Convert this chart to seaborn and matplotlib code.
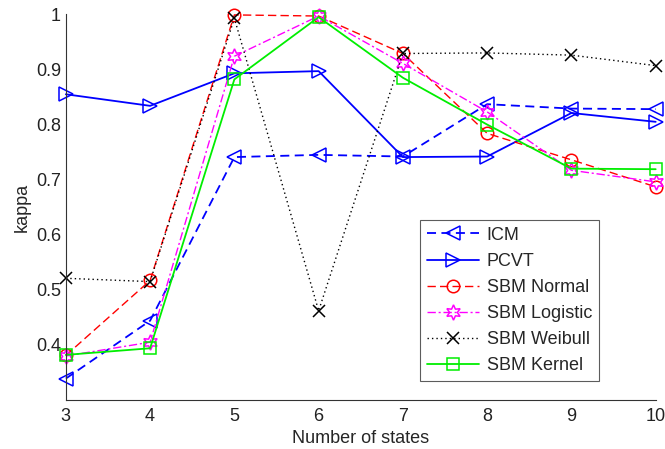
import matplotlib
matplotlib.use("Agg")
import matplotlib.pyplot as plt
import seaborn as sns

states = [3, 4, 5, 6, 7, 8, 9, 10]
icm = [0.339, 0.444, 0.741, 0.745, 0.742, 0.837, 0.829, 0.828]
pcvt = [0.855, 0.834, 0.893, 0.897, 0.741, 0.742, 0.821, 0.805]
sbm_normal = [0.381, 0.517, 0.999, 0.997, 0.929, 0.784, 0.736, 0.687]
sbm_logistic = [0.380, 0.405, 0.924, 0.997, 0.911, 0.823, 0.717, 0.696]
sbm_weibull = [0.521, 0.515, 0.993, 0.462, 0.929, 0.930, 0.926, 0.907]
sbm_kernel = [0.382, 0.394, 0.882, 0.995, 0.885, 0.800, 0.720, 0.719]
labels = ["ICM", "PCVT", "SBM Normal", "SBM Logistic", "SBM Weibull", "SBM Kernel"]

sns.set_style("white")
plt.rcParams['font.family'] = ['Liberation Sans', 'DejaVu Sans']

fig = plt.figure(figsize=(6.65, 4.49), dpi=100)
ax = fig.add_axes([0.099, 0.109, 0.887, 0.859])

styles = [
    (icm, dict(color="#0000ff", linestyle=(0, (5, 3)), marker="<", markersize=10, lw=1.3)),
    (pcvt, dict(color="#0000ff", linestyle="-", marker=">", markersize=10, lw=1.3)),
    (sbm_normal, dict(color="#ff0000", linestyle=(0, (6, 3)), marker="o", markersize=9, lw=1.0)),
    (sbm_logistic, dict(color="#ff00ff", linestyle=(0, (6, 2, 1.5, 2)), marker=(6, 1, 0), markersize=11, lw=1.0)),
    (sbm_weibull, dict(color="#000000", linestyle=(0, (1, 2.2)), marker="x", markersize=8, lw=1.0)),
    (sbm_kernel, dict(color="#00ee00", linestyle="-", marker="s", markersize=9, lw=1.3)),
]

for (vals, st), lab in zip(styles, labels):
    sns.lineplot(x=states, y=vals, ax=ax, label=lab, markerfacecolor="none",
                 markeredgecolor=st["color"], markeredgewidth=1.1, clip_on=False, **st)

ax.set_xlim(3, 10)
ax.set_ylim(0.3, 1.0)
ax.set_xticks(states)
ax.set_yticks([0.4, 0.5, 0.6, 0.7, 0.8, 0.9, 1.0])
ax.set_yticklabels(["0.4", "0.5", "0.6", "0.7", "0.8", "0.9", "1"])
ax.tick_params(direction="in", length=5, labelsize=13, colors="#222222", width=0.8)
ax.tick_params(axis="x", pad=6)
for s in ["top", "right"]:
    ax.spines[s].set_visible(False)
for s in ["left", "bottom"]:
    ax.spines[s].set_color("#333333")
    ax.spines[s].set_linewidth(0.8)
ax.set_xlabel("Number of states", fontsize=13, labelpad=3)
ax.set_ylabel("kappa", fontsize=13, labelpad=4)

leg = ax.legend(loc="lower left", bbox_to_anchor=(0.6, 0.049), fontsize=13,
                frameon=True, fancybox=False, edgecolor="#333333", borderaxespad=0,
                handlelength=2.9, borderpad=0.4, labelspacing=0.5, handletextpad=0.4)
leg.get_frame().set_linewidth(0.8)

fig.savefig("out.png", dpi=100)
